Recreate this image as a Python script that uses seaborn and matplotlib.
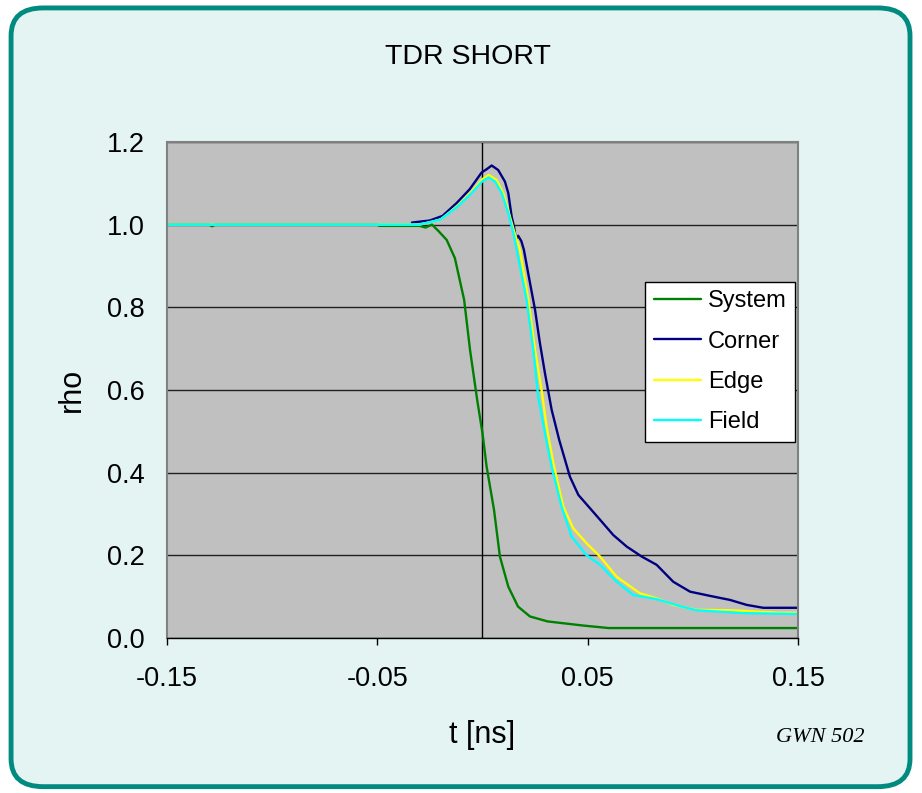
import matplotlib
matplotlib.use("Agg")
import matplotlib.pyplot as plt
from matplotlib.patches import FancyBboxPatch
import pandas as pd
import seaborn as sns

system_t = [-0.15, -0.13, -0.1285, -0.127, -0.05, -0.049, -0.03, -0.027, -0.024, -0.021,
            -0.017, -0.0131, -0.0087, -0.0059, -0.0025, 0.0, 0.002, 0.0055, 0.0083,
            0.0123, 0.0169, 0.0226, 0.031, 0.048, 0.060, 0.15]
system_rho = [1.0, 1.0, 0.996, 1.0, 1.0, 0.997, 0.997, 0.993, 1.0, 0.985,
              0.963, 0.919, 0.818, 0.697, 0.576, 0.496, 0.414, 0.31, 0.197,
              0.124, 0.076, 0.052, 0.040, 0.030, 0.024, 0.024]

corner_t = [-0.0335, -0.025, -0.019, -0.0123, -0.006, -0.0004, 0.002, 0.0044, 0.0075,
            0.0107, 0.0123, 0.0139, 0.015, 0.016, 0.017, 0.0185, 0.0197, 0.0226, 0.025,
            0.0273, 0.0297, 0.0329, 0.0365, 0.0416, 0.0456, 0.0511, 0.0559, 0.0622,
            0.0686, 0.0757, 0.0828, 0.0907, 0.0987, 0.108, 0.1177, 0.1256, 0.1335, 0.15]
corner_rho = [1.005, 1.01, 1.021, 1.052, 1.086, 1.126, 1.134, 1.143, 1.132,
              1.104, 1.076, 1.019, 0.995, 0.963, 0.973, 0.96, 0.939, 0.859, 0.794,
              0.714, 0.641, 0.552, 0.479, 0.39, 0.346, 0.314, 0.286, 0.249,
              0.221, 0.197, 0.177, 0.136, 0.112, 0.102, 0.092, 0.08, 0.073, 0.073]

edge_t = [-0.15, -0.03, -0.02, -0.012, -0.006, 0.0, 0.003, 0.0067, 0.0099, 0.0131,
          0.0147, 0.0178, 0.0218, 0.025, 0.0281, 0.0305, 0.0337, 0.0384, 0.0432, 0.0495,
          0.0559, 0.0638, 0.0749, 0.0828, 0.0907, 0.1019, 0.1177, 0.1415, 0.15]
edge_rho = [1.0, 1.0, 1.012, 1.045, 1.075, 1.11, 1.12, 1.108, 1.076, 1.019,
            0.99, 0.939, 0.818, 0.697, 0.6, 0.511, 0.423, 0.318, 0.265, 0.229,
            0.197, 0.148, 0.108, 0.096, 0.08, 0.068, 0.067, 0.061, 0.061]

field_t = [-0.15, -0.03, -0.02, -0.012, -0.006, 0.0, 0.003, 0.006, 0.0091, 0.0123,
           0.0147, 0.0163, 0.021, 0.0242, 0.0265, 0.0297, 0.0329, 0.0376, 0.0424, 0.0495,
           0.0559, 0.0638, 0.0717, 0.0828, 0.0939, 0.1019, 0.124, 0.15]
field_rho = [1.0, 1.0, 1.012, 1.043, 1.072, 1.105, 1.114, 1.104, 1.077, 1.028,
             0.98, 0.939, 0.818, 0.697, 0.584, 0.496, 0.414, 0.318, 0.245, 0.2,
             0.177, 0.136, 0.104, 0.094, 0.077, 0.067, 0.06, 0.058]

series = ["System", "Corner", "Edge", "Field"]
colors = ["#008000", "#000080", "#ffff00", "#00ffff"]
x_ticks = [-0.15, -0.05, 0.05, 0.15]
x_labels = ["-0.15", "-0.05", "0.05", "0.15"]
y_ticks = [0.0, 0.2, 0.4, 0.6, 0.8, 1.0, 1.2]

frames = []
for name, t, rho in zip(series, [system_t, corner_t, edge_t, field_t],
                        [system_rho, corner_rho, edge_rho, field_rho]):
    frames.append(pd.DataFrame({"t": t, "rho": rho, "series": name}))
df = pd.concat(frames, ignore_index=True)

sns.set_style("white")
plt.rcParams['font.family'] = ['Liberation Sans', 'DejaVu Sans']
plt.rcParams['text.color'] = 'black'
plt.rcParams['xtick.color'] = 'black'
plt.rcParams['ytick.color'] = 'black'

fig = plt.figure(figsize=(9.22, 7.93), dpi=100)
fig.patch.set_facecolor("white")

# rounded teal frame with light background (behind the axes)
frame = FancyBboxPatch((0.012, 0.008), 0.975, 0.982, transform=fig.transFigure,
                       boxstyle="round,pad=0,rounding_size=0.035",
                       facecolor="#e3f4f3", edgecolor="#008a80", linewidth=3.5,
                       zorder=-10)
fig.patches.append(frame)

ax = fig.add_axes([0.181, 0.1955, 0.6845, 0.6255])
ax.set_facecolor("#c0c0c0")

sns.lineplot(data=df, x="t", y="rho", hue="series", hue_order=series,
             palette=colors, estimator=None, linewidth=1.7, ax=ax)

ax.set_xlim(-0.15, 0.15)
ax.set_ylim(0, 1.2)
ax.set_xticks(x_ticks)
ax.set_xticklabels(x_labels)
ax.set_yticks(y_ticks)
ax.set_yticklabels([f"{v:.1f}" for v in y_ticks])
ax.yaxis.grid(True, color="#202020", linewidth=1)
ax.set_axisbelow(True)
ax.axvline(0, color="black", linewidth=1, zorder=1.5)
ax.tick_params(axis="x", length=5, width=1, color="black", pad=15, labelsize=19.5, direction="out")
ax.tick_params(axis="y", length=0, pad=16, labelsize=19.5)
ax.xaxis.set_ticks_position("bottom")
for side in ["top", "right", "left"]:
    ax.spines[side].set_color("#808080")
    ax.spines[side].set_linewidth(1.5)
ax.spines["bottom"].set_color("black")
ax.spines["bottom"].set_linewidth(1)
ax.set_xlabel("")
ax.set_ylabel("")

handles, labels = ax.get_legend_handles_labels()
leg = ax.legend(handles, labels, loc="upper right", bbox_to_anchor=(0.995, 0.718),
                borderaxespad=0, fontsize=17, frameon=True, fancybox=False, framealpha=1,
                edgecolor="black", facecolor="white", handlelength=2.0,
                borderpad=0.35, labelspacing=0.78, handletextpad=0.3)
leg.get_frame().set_linewidth(1)

fig.text(0.508, 0.928, "TDR SHORT", ha="center", va="center", fontsize=20.5)
fig.text(0.078, 0.508, "rho", ha="center", va="center", rotation=90, fontsize=22)
fig.text(0.523, 0.073, "t [ns]", ha="center", va="center", fontsize=22)
fig.text(0.890, 0.070, "GWN 502", ha="center", va="center", fontsize=16,
         style="italic", family=["Liberation Serif", "DejaVu Serif"])

fig.savefig("out.png", dpi=100, facecolor=fig.get_facecolor())
